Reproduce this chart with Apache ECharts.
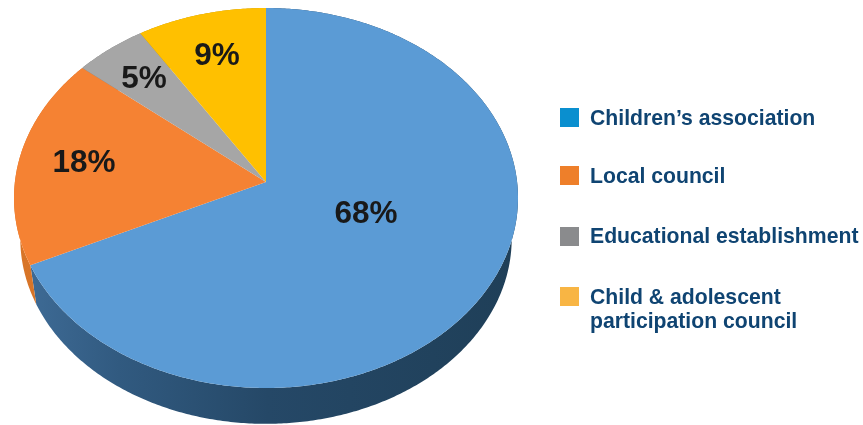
<!DOCTYPE html>
<html>
<head>
<meta charset="utf-8">
<style>html,body{margin:0;padding:0;background:#fff}#chart{width:863px;height:425px}</style>
<script src="https://cdn.jsdelivr.net/npm/echarts@6/dist/echarts.min.js"></script>
</head>
<body>
<div id="chart"></div>
<script>
// Shares of the tilted disc, clockwise from twelve o'clock
const categories = ["Children\u2019s association", "Local council", "Educational establishment", "Child & adolescent\nparticipation council"];
const shares = [68, 18, 5, 9];
const labels = ["68%", "18%", "5%", "9%"];

// Colours of the disc top, its rim and the key swatches
const sliceColors = ["#5b9bd5", "#f58233", "#a6a6a6", "#ffc000"];
const keyColors = ["#0a8fcf", "#ee7f2a", "#8a8b8d", "#f8b544"];
const rimStops = [
  [[0, "#3f6c97"], [0.2, "#315a80"], [0.5, "#254867"], [1, "#1f3f58"]],
  [[0, "#d87528"], [1, "#b9621f"]],
  [[0, "#7d7d7d"], [1, "#7d7d7d"]],
  [[0, "#bf9000"], [1, "#bf9000"]]
];

// Label offsets from the disc's apex, and key layout
const labelOffsets = [[100, 32], [-182, -19], [-122, -103], [-49, -126]];
const keyTops = [108, 166, 227, 287];
const keyTextTops = [107, 165, 225, 286];

// Perspective view of a unit circle: the far side is foreshortened,
// so the apex sits above the middle of the drawn ellipse.
const APEX = { x: 266, y: 182 };
const TILT = 0.0842, SCALE_X = 251.1, SCALE_Y = 188.65;
const RIM_DROP = 41, RIM_SCALE = 0.975;

function project(angle, radius, lower) {
  const X = radius * Math.sin(angle), Y = radius * Math.cos(angle);
  const d = 1 + TILT * Y, s = lower ? RIM_SCALE : 1;
  return [
    APEX.x + s * SCALE_X * X / d,
    APEX.y + (lower ? RIM_DROP : 0) - s * SCALE_Y * Y / d
  ];
}

const total = shares.reduce((a, b) => a + b, 0);

function sweep(index) {
  let before = 0;
  for (let i = 0; i < index; i++) before += shares[i];
  const a0 = before / total * 2 * Math.PI;
  return [a0, a0 + shares[index] / total * 2 * Math.PI];
}

function arcAngles(a0, a1) {
  const steps = Math.max(4, Math.ceil((a1 - a0) / 0.01));
  const out = [];
  for (let i = 0; i <= steps; i++) out.push(a0 + (a1 - a0) * i / steps);
  return out;
}

function renderRim(params, api) {
  const i = params.dataIndex;
  const [a0, a1] = sweep(i);
  const angles = arcAngles(a0, a1);
  const pts = angles.map(a => project(a, 1, false))
    .concat(angles.slice().reverse().map(a => project(a, 1, true)));
  const stops = rimStops[i].map(s => ({ offset: s[0], color: s[1] }));
  return {
    type: "polygon",
    shape: { points: pts },
    style: { fill: new echarts.graphic.LinearGradient(20, 0, 515, 0, stops, true) }
  };
}

function renderTop(params, api) {
  const i = params.dataIndex;
  const [a0, a1] = sweep(i);
  const pts = [[APEX.x, APEX.y]].concat(arcAngles(a0, a1).map(a => project(a, 1, false)));
  return {
    type: "group",
    children: [
      { type: "polygon", shape: { points: pts }, style: { fill: sliceColors[i] } },
      {
        type: "text",
        z2: 10,
        style: {
          text: labels[i],
          x: APEX.x + labelOffsets[i][0],
          y: APEX.y + labelOffsets[i][1],
          fill: "#191919",
          font: "bold 31.5px 'Liberation Sans', Arial, sans-serif",
          align: "center",
          verticalAlign: "middle"
        }
      }
    ]
  };
}

const keyGraphics = [];
categories.forEach((name, i) => {
  keyGraphics.push({
    type: "rect",
    shape: { x: 560, y: keyTops[i], width: 19, height: 19 },
    style: { fill: keyColors[i] }
  });
  keyGraphics.push({
    type: "text",
    style: {
      text: name,
      x: 590,
      y: keyTextTops[i],
      fill: "#0f4472",
      font: "bold 21.2px 'Liberation Sans', Arial, sans-serif",
      lineHeight: 24,
      align: "left",
      verticalAlign: "top"
    }
  });
});

const chart = echarts.init(document.getElementById("chart"), null, { renderer: "canvas" });
chart.setOption({
  animation: false,
  backgroundColor: "#ffffff",
  graphic: keyGraphics,
  series: [
    { type: "custom", name: "rim", coordinateSystem: "none", z: 1, renderItem: renderRim, data: shares, silent: true },
    { type: "custom", name: "top", coordinateSystem: "none", z: 2, renderItem: renderTop, data: shares, silent: true }
  ]
});
</script>
</body>
</html>
